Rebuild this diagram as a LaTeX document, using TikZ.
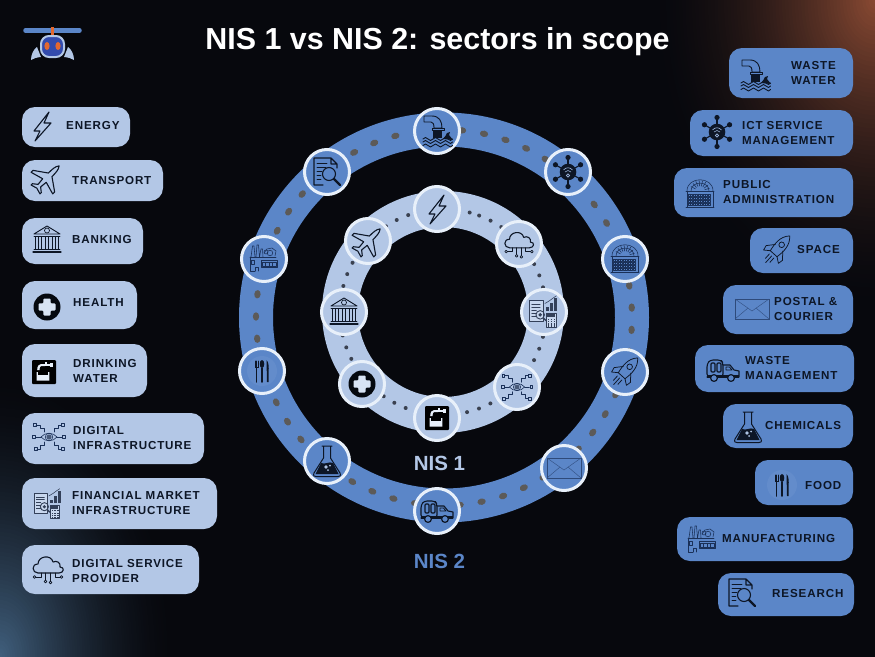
\documentclass[tikz,border=0pt]{standalone}
\usepackage{fontspec}
\setmainfont{Liberation Sans}
\newfontfamily\labfont[LetterSpace=7.5]{Liberation Sans}
\definecolor{bgc}{HTML}{07080D}
\definecolor{pa}{HTML}{B3C7E6}
\definecolor{pb}{HTML}{5B86C8}
\definecolor{ink}{HTML}{0D1626}
\definecolor{thinink}{HTML}{1A3058}
\definecolor{finink}{HTML}{334059}
\definecolor{ringw}{HTML}{E8F0FA}
\definecolor{dota}{HTML}{5C5A58}
\definecolor{dotb}{HTML}{3A4150}
\definecolor{orng}{HTML}{E4682F}
\definecolor{ra}{HTML}{8A4A33}
\definecolor{ba}{HTML}{41607E}
\tikzset{
  x=1pt,y=-1pt,
  pilla/.style={rectangle,rounded corners=13pt,fill=pa,draw=none,inner sep=0pt},
  pillb/.style={rectangle,rounded corners=13pt,fill=pb,draw=none,inner sep=0pt},
  circa/.style={circle,draw=ringw,line width=3pt,fill=pa,minimum size=45pt,inner sep=0pt},
  circb/.style={circle,draw=ringw,line width=3pt,fill=pb,minimum size=45pt,inner sep=0pt},
  lab/.style={anchor=west,text=ink,inner sep=0pt,align=left,font=\labfont\bfseries\fontsize{11.6}{15}\selectfont},
  ico/.style={draw=ink,line width=1.1pt,line join=round,line cap=round},
  thn/.style={draw=thinink,line width=.55pt,line join=round,line cap=round},
  fn/.style={draw=finink,line width=.55pt,line join=round,line cap=round},
  pics/icbolt/.style={code={
    \draw[ico] (7,-14) -- (-8,5) -- (-2,5) -- (-7,15) -- (9,-3) -- (2,-3) -- cycle;}},
  pics/icplane/.style={code={
    \begin{scope}[rotate=-45]
    \draw[ico] (0,-19) .. controls (2.8,-16) and (2.8,-10) .. (2.8,-5) -- (17,5) -- (17,8) -- (2.8,4)
      -- (2,12) -- (7,16) -- (7,18) -- (0,16) -- (-7,18) -- (-7,16) -- (-2,12) -- (-2.8,4)
      -- (-17,8) -- (-17,5) -- (-2.8,-5) .. controls (-2.8,-10) and (-2.8,-16) .. (0,-19) -- cycle;
    \end{scope}}},
  pics/icbank/.style={code={
    \draw[ico,line width=.9pt] (0,-14) -- (-13,-6) -- (13,-6) -- cycle;
    \draw[ico,line width=.7pt] (0,-9.5) circle[radius=2.5];
    \draw[ico,line width=.9pt] (-13,-3.5) -- (13,-3.5);
    \foreach \cx in {-10,-3.5,3.5,10}{\draw[ico,line width=.9pt] (\cx-1.7,-3.5) -- (\cx-1.7,9) (\cx+1.7,-3.5) -- (\cx+1.7,9);}
    \draw[ico,line width=.9pt] (-13,9.5) -- (13,9.5);
    \draw[ico] (-14,12) -- (14,12);}},
  pics/ichealth/.style={code={
    \fill[ink!40!black] (0,0) circle[radius=13.5];
    \fill[ringw!70!pa,rounded corners=1pt] (-3.6,-8.5) -- (3.6,-8.5) -- (3.6,-3.6) -- (8.5,-3.6) -- (8.5,3.6) -- (3.6,3.6) -- (3.6,8.5) -- (-3.6,8.5) -- (-3.6,3.6) -- (-8.5,3.6) -- (-8.5,-3.6) -- (-3.6,-3.6) -- cycle;}},
  pics/ictap/.style={code={
    \fill[black,rounded corners=1pt] (-12,-12) rectangle (12,12);
    \fill[ringw] (-1,-8) rectangle (6,-5.8);
    \fill[ringw] (1,-10) rectangle (3,-8);
    \fill[ringw] (6,-9) rectangle (8.5,-4.8);
    \fill[ringw] (-1,-8) -- (1,-5.8) -- (-3,-5.8) .. controls (-4,-5.8) and (-4.5,-4) .. (-4.5,-2) -- (-6.8,-2) .. controls (-6.8,-6) and (-5,-8) .. (-3,-8) -- cycle;
    \fill[ringw] (-7.5,0) -- (-6.2,0) -- (-6.2,3) -- (4,3) -- (4,0) -- (5.3,0) -- (5.3,8.5) -- (-7.5,8.5) -- cycle;}},
  pics/iceye/.style={code={
    \draw[ico,line width=.6pt,draw=thinink] (-8,0) .. controls (-4,-5) and (4,-5) .. (8,0) .. controls (4,5) and (-4,5) .. (-8,0) -- cycle;
    \fill[thinink!80] (0,0) circle[radius=2.6];
    \draw[ico,line width=.6pt,draw=thinink] (0,0) circle[radius=3.8];
    \draw[ico,line width=.6pt,draw=thinink] (-8,0) -- (-13,0) (8,0) -- (13,0)
      (-5,-5) -- (-5,-9) -- (-9,-9) -- (-9,-12) -- (-13,-12)
      (5,-5) -- (5,-9) -- (9,-9) -- (9,-12) -- (12,-12)
      (-5,5) -- (-5,8) -- (-9,8) -- (-9,12) -- (-12,12)
      (5,5) -- (5,8) -- (9,8) -- (9,12) -- (12,12);
    \foreach \sx/\sy in {-15/0,15/0,-14.5/-12,13.5/-12,-13.5/12,13.5/12}{
      \draw[ico,line width=.6pt,draw=thinink] (\sx-1.5,\sy-1.5) rectangle (\sx+1.5,\sy+1.5);}}},
  pics/icfin/.style={code={
    \fill[ringw!40!pa] (-15,-12) rectangle (-1,10);
    \draw[fn] (-15,-12) rectangle (-1,10);
    \draw[fn] (-13,-8) -- (-4,-8) (-13,-5) -- (-4,-5) (-13,-2) -- (-8,-2) (-13,1) -- (-8,1) (-13,5) -- (-8,5);
    \fill[finink] (-4,3) circle[radius=2];
    \draw[fn,line width=.9pt] (-4,3) circle[radius=4.5];
    \draw[fn,line width=1.4pt] (-1,6) -- (2,9);
    \fill[finink] (2,-5) rectangle (5,-1);
    \fill[finink] (6.5,-9) rectangle (9.5,-1);
    \fill[finink] (11,-15) rectangle (14,-1);
    \draw[fn] (1,-9) -- (6,-12) -- (10,-15) -- (13,-17);
    \fill[ringw!40!pa] (2,1) rectangle (13,16);
    \draw[fn] (2,1) rectangle (13,16);
    \fill[finink] (3.5,2.5) rectangle (11.5,5);
    \foreach \qy in {7,9.5,12,14.2}{\foreach \qx in {4,7,10}{\fill[finink] (\qx,\qy) rectangle (\qx+1.7,\qy+1.2);}}}},
  pics/iccloud/.style={code={
    \draw[ico] (-10,4) .. controls (-16,4) and (-17,-5) .. (-10,-5) .. controls (-10,-13) and (3,-15) .. (5,-7) .. controls (9,-9) and (13,-6) .. (12,-2) .. controls (17,-2) and (16,4) .. (11,4) -- cycle;
    \draw[ico,line width=.9pt] (-7,4) -- (-7,8) -- (-12,8) (-2.5,4) -- (-2.5,11) (2.5,4) -- (2.5,12) (7,4) -- (7,8) -- (12,8);
    \draw[ico,line width=.7pt] (-13.5,8) circle[radius=1.4] (-2.5,12.5) circle[radius=1.4] (2.5,13.5) circle[radius=1.4] (13.5,8) circle[radius=1.4];}},
  pics/icwater/.style={code={
    \draw[ico,line width=.9pt] (-13,-15) -- (-5,-15) .. controls (2,-15) and (5,-10) .. (5,-3) -- (-3,-3) .. controls (-3,-7) and (-4,-9) .. (-6,-9) -- (-13,-9) -- cycle;
    \draw[ico,line width=.9pt] (-5,-3) rectangle (7,-1);
    \fill[ink] (-4,-1) rectangle (5,7);
    \fill[ink] (6,8) .. controls (8,6) and (9,4) .. (10,2) -- (13,1) -- (12,4) -- (16,9) -- cycle;
    \foreach \wy in {8,11,14.5}{\draw[ico,line width=.9pt] (-14,\wy) sin (-11.5,\wy-1.5) cos (-9,\wy) sin (-6.5,\wy+1.5) cos (-4,\wy) sin (-1.5,\wy-1.5) cos (1,\wy) sin (3.5,\wy+1.5) cos (6,\wy) sin (8.5,\wy-1.5) cos (11,\wy) sin (13.5,\wy+1.5) cos (15.5,\wy);}}},
  pics/icict/.style={code={
    \foreach \ha in {90,30,-30,-90,-150,150}{
      \draw[ink,line width=1.1pt] (0,0) -- ({14.5*cos(\ha)},{14.5*sin(\ha)});
      \fill[ink] ({14.5*cos(\ha)},{14.5*sin(\ha)}) circle[radius=2.6];}
    \fill[ink] (0,0) circle[radius=8.3];
    \draw[pb!60!white,line width=.6pt] (-4.5,-2) .. controls (-2,-5) and (2,-5) .. (4.5,-2);
    \draw[pb!60!white,line width=.6pt] (-3,0) .. controls (-1.5,-2) and (1.5,-2) .. (3,0);
    \draw[pb!60!white,line width=.6pt] (0,3.5) circle[radius=1.6];}},
  pics/icpublic/.style={code={
    \draw[thn] (-13,-3) .. controls (-13,-18) and (13,-18) .. (13,-3);
    \draw[thn] (-9,-3) .. controls (-9,-13.5) and (9,-13.5) .. (9,-3);
    \foreach \ra in {15,35,...,165}{\draw[thn] ({5*cos(\ra)},{-3-5*sin(\ra)}) -- ({9.8*cos(\ra)},{-3-10.5*sin(\ra)});}
    \draw[thn,line width=.9pt] (-14,-3) -- (14,-3);
    \draw[thn] (-13,-3) rectangle (13,13);
    \foreach \wy in {0,3,6,9}{\foreach \wx in {-12,-9.5,...,10}{\draw[thn,line width=.4pt] (\wx,\wy) rectangle (\wx+1.7,\wy+2);}}
    \draw[thn,line width=.9pt] (-14,13) -- (14,13);}},
  pics/icrocket/.style={code={
    \begin{scope}[rotate=-42]
    \draw[ico,line width=.75pt] (0,-19) .. controls (7,-12) and (6,-3) .. (4.5,5) -- (-4.5,5) .. controls (-6,-3) and (-7,-12) .. (0,-19) -- cycle;
    \draw[ico,line width=.75pt] (0,-7) circle[radius=2.8];
    \draw[ico,line width=.75pt] (-5,-3) -- (-11,4) -- (-10,9) -- (-4.5,5) (5,-3) -- (11,4) -- (10,9) -- (4.5,5);
    \draw[ico,line width=.75pt] (-3,8) -- (-3,14) (0,8) -- (0,17) (3,8) -- (3,14);
    \end{scope}}},
  pics/icmail/.style={code={
    \draw[draw=thinink!70!pb,line width=.7pt] (-17,-10) rectangle (17,10);
    \draw[draw=thinink!60!pb,line width=.45pt] (-17,-10) -- (0,2) -- (17,-10) (-17,10) -- (-4,-1) (17,10) -- (4,-1);}},
  pics/ictruck/.style={code={
    \draw[ico,rounded corners=3pt] (-16,7) -- (-16,-6) -- (-13,-10) -- (-2,-10) -- (0,-7) -- (0,7) -- cycle;
    \draw[ico,rounded corners=1pt] (-12,-7) rectangle (-8,2) (-6,-7) rectangle (-2,2);
    \draw[ico] (0,-5) -- (7,-5) -- (11,0) -- (16,1) -- (16,7) -- (-16,7);
    \draw[ico,line width=.8pt] (3,-3) -- (6.5,-3) -- (9,0) -- (3,0) -- cycle;
    \fill[ink] (-16,5) rectangle (16,7.5);
    \draw[ico,line width=1.2pt,fill=pb] (-9,8) circle[radius=3.4] (8,8) circle[radius=3.4];}},
  pics/icflask/.style={code={
    \draw[ico,line width=1pt] (-5,-15) -- (5,-15) (-3.5,-15) -- (-3.5,-3) -- (-13,12) .. controls (-14,15) and (-13,15.5) .. (-11,15.5) -- (11,15.5) .. controls (13,15.5) and (14,15) .. (13,12) -- (3.5,-3) -- (3.5,-15);
    \fill[ink] (-6,2) .. controls (-2,4) and (2,0) .. (6,2) -- (11.5,13) -- (-11.5,13) -- cycle;
    \fill[pb!50!white] (-1,6) circle[radius=1.8] (3,4.5) circle[radius=1] (1,9) circle[radius=1];}},
  pics/icfood/.style={code={
    \fill[pb!95!white] (0,0) circle[radius=15];
    \draw[ink,line width=1.5pt,line cap=round] (-5.5,-3) -- (-5.5,11);
    \draw[ink,line width=.8pt,line cap=round] (-7,-10) -- (-7,-4) -- (-4,-4) -- (-4,-10) (-5.5,-10) -- (-5.5,-4);
    \fill[ink] (0,-11) .. controls (-3,-11) and (-3,-3) .. (0,-3) .. controls (3,-3) and (3,-11) .. (0,-11) -- cycle;
    \draw[ink,line width=1.5pt,line cap=round] (0,-3) -- (0,11);
    \fill[ink] (4.5,-11) .. controls (7,-9) and (7,-2) .. (6.5,0) -- (6.5,11) -- (5,11) -- cycle;}},
  pics/icfactory/.style={code={
    \draw[thn] (-13,-2) -- (-11.5,-13) -- (-10,-13) -- (-9,-2) (-8,-2) -- (-7,-14) -- (-5.5,-14) -- (-4.5,-2) (-4.5,-2) -- (-3,-10) -- (-1.5,-10) -- (-1,-2);
    \draw[thn] (0,-6) -- (3,-10) -- (8,-11) -- (12,-8) -- (11,-3);
    \draw[thn] (6,-6) circle[radius=2.8] (2,-7) circle[radius=2];
    \draw[thn] (-14,-2) -- (12,-2);
    \draw[thn] (-14,-2) -- (-14,12) -- (-9,12);
    \draw[thn] (-13,1) rectangle (-10,5);
    \draw[thn] (-9,12) -- (-9,8) -- (-6,8) -- (-6,12);
    \foreach \wx in {-2,1.5,5,8.5}{\draw[thn] (\wx,3) rectangle (\wx+3.5,7);}
    \draw[thn] (-3,1) rectangle (13,8);}},
  pics/icresearch/.style={code={
    \draw[ico] (-13,-14) -- (4,-14) -- (10,-8) -- (10,-4) (4,-14) -- (4,-8) -- (10,-8) (-4,13) -- (-13,13) -- (-13,-14);
    \draw[ico,line width=.8pt] (-10,-9) -- (0,-9) (-10,-5) -- (-1,-5) (-10,-1) -- (-5,-1) (-10,3) -- (-6,3) (-10,7) -- (-6,7);
    \draw[ico,line width=1.1pt] (2,2) circle[radius=6.5];
    \draw[ink,line width=2.2pt,line cap=round] (7,7) -- (13,13);}},
}
\newcommand{\pillbox}[6]{\node[#2,minimum width={(#5-#3)*1pt},minimum height={(#6-#4)*1pt}] (#1) at ({(#3+#5)/2},{(#4+#6)/2}) {};}
\begin{document}
\begin{tikzpicture}
\useasboundingbox (0,0) rectangle (875,656);
\fill[bgc] (-3,-3) rectangle (878,659);
\begin{scope}
  \clip (-3,-3) rectangle (878,659);
  \foreach \i in {70,69,...,1}{
    \pgfmathsetmacro{\tt}{\i/70}
    \pgfmathsetmacro{\pc}{100*pow(1-\tt,1.7)}
    \fill[ra!\pc!bgc] (875,0) ellipse [x radius={225*\tt*1pt},y radius={310*\tt*1pt}];
  }
  \foreach \i in {70,69,...,1}{
    \pgfmathsetmacro{\tt}{\i/70}
    \pgfmathsetmacro{\pc}{100*pow(1-\tt,1.6)}
    \fill[ba!\pc!bgc] (0,656) ellipse [x radius={175*\tt*1pt},y radius={280*\tt*1pt}];
  }
\end{scope}
% rings
\coordinate (co) at (444,317.5);
\coordinate (ci) at (443,312);
\draw[pb,line width=34pt] (co) circle[radius=188];
\draw[pa,line width=36pt] (ci) circle[radius=103];
\foreach \k in {0,...,52}{
  \pgfmathsetmacro{\ang}{105+\k*6.79}
  \fill[dota,shift={({444+188*cos(\ang)},{317.5-188*sin(\ang)})},rotate=\ang+90] (0,0) ellipse [x radius=4.2pt,y radius=3.2pt];
}
\foreach \k in {0,...,51}{
  \pgfmathsetmacro{\ang}{75+\k*6.95}
  \fill[dotb] ({443+103*cos(\ang)},{312-103*sin(\ang)}) circle[radius=2];
}
% logo
\draw[pb,line width=4.5pt,line cap=round] (25.5,30.5) -- (79.5,30.5);
\fill[orng] (51,27) rectangle (54,36);
\fill[pa] (37,47) .. controls (33,50) and (31,55) .. (31,60) .. controls (34,58) and (37,57.5) .. (41,57) -- cycle;
\fill[pa] (68,47) .. controls (72,50) and (74,55) .. (74,60) .. controls (71,58) and (68,57.5) .. (64,57) -- cycle;
\node[rectangle,rounded corners=8pt,draw=pa,line width=2pt,fill=pb!70!blue!80!black,minimum width=23pt,minimum height=21pt,inner sep=0pt] (logohead) at (52.5,46.5) {};
\fill[orng] (47,46) ellipse [x radius=2.6pt,y radius=4pt];
\fill[orng] (58,46) ellipse [x radius=2.6pt,y radius=4pt];
% title and ring labels
\node[text=white,inner sep=0pt,font=\bfseries\fontsize{30.4}{36}\selectfont] (title) at (437.5,42) {NIS 1 vs NIS 2: sectors in scope};
\node[text=pa,inner sep=0pt,font=\bfseries\fontsize{20.5}{24}\selectfont] (nisone) at (439.5,463) {NIS 1};
\node[text=pb,inner sep=0pt,font=\bfseries\fontsize{20.5}{24}\selectfont] (nistwo) at (439.5,561) {NIS 2};
% inner nodes
\node[circa] (a1) at (437,209) {}; \pic at (a1) {icbolt};
\node[circa] (a2) at (519,244) {}; \pic[scale=.95] at (a2) {iccloud};
\node[circa] (a3) at (544,312) {}; \pic[scale=.95] at (a3) {icfin};
\node[circa] (a4) at (517,387) {}; \pic[scale=.95] at (a4) {iceye};
\node[circa] (a5) at (437,418) {}; \pic at (a5) {ictap};
\node[circa] (a6) at (362,384) {}; \pic at (a6) {ichealth};
\node[circa] (a7) at (344,312) {}; \pic at (a7) {icbank};
\node[circa] (a8) at (368,241) {}; \pic[scale=.9] at (a8) {icplane};
% outer nodes
\node[circb] (b1) at (437,131) {}; \pic at (b1) {icwater};
\node[circb] (b2) at (568,172) {}; \pic at (b2) {icict};
\node[circb] (b3) at (625,259) {}; \pic at (b3) {icpublic};
\node[circb] (b4) at (625,372) {}; \pic at (b4) {icrocket};
\node[circb] (b5) at (564,468) {}; \pic at (b5) {icmail};
\node[circb] (b6) at (437,511) {}; \pic at (b6) {ictruck};
\node[circb] (b7) at (327,461) {}; \pic at (b7) {icflask};
\node[circb] (b8) at (262,371) {}; \pic at (b8) {icfood};
\node[circb] (b9) at (264,259) {}; \pic at (b9) {icfactory};
\node[circb] (b10) at (327,172) {}; \pic at (b10) {icresearch};
% left pills
\pillbox{energy}{pilla}{22}{107}{130}{147}
\pic at (42,126) {icbolt};
\node[lab] (energyt) at (66,126) {ENERGY};
\pillbox{transport}{pilla}{22}{160}{163}{201}
\pic[scale=.9] at (47,178) {icplane};
\node[lab] (transportt) at (72,181) {TRANSPORT};
\pillbox{banking}{pilla}{22}{218}{143}{264}
\pic at (47,240) {icbank};
\node[lab] (bankingt) at (72,240) {BANKING};
\pillbox{health}{pilla}{22}{281}{137}{329}
\pic at (47,307) {ichealth};
\node[lab] (healtht) at (73,303) {HEALTH};
\pillbox{drinking}{pilla}{22}{344}{147}{397}
\pic at (44,372) {ictap};
\node[lab] (drinkingt) at (73,371) {DRINKING\\WATER};
\pillbox{digital}{pilla}{22}{413}{204}{464}
\pic at (49,437) {iceye};
\node[lab] (digitalt) at (73,438) {DIGITAL\\INFRASTRUCTURE};
\pillbox{financial}{pilla}{22}{478}{217}{529}
\pic[scale=.9] at (48,504) {icfin};
\node[lab] (financialt) at (72,503) {FINANCIAL MARKET\\INFRASTRUCTURE};
\pillbox{service}{pilla}{22}{545}{199}{594}
\pic at (48,569) {iccloud};
\node[lab] (servicet) at (72,571) {DIGITAL SERVICE\\PROVIDER};
% right pills
\pillbox{wastewater}{pillb}{729}{48}{853}{98}
\pic at (755,75) {icwater};
\node[lab] (wastewatert) at (791,73) {WASTE\\WATER};
\pillbox{ict}{pillb}{690}{110}{853}{156}
\pic at (717,132) {icict};
\node[lab] (ictt) at (742,133) {ICT SERVICE\\MANAGEMENT};
\pillbox{public}{pillb}{674}{168}{853}{217}
\pic at (700,194) {icpublic};
\node[lab] (publict) at (723,192) {PUBLIC\\ADMINISTRATION};
\pillbox{space}{pillb}{750}{228}{853}{273}
\pic at (777,250) {icrocket};
\node[lab] (spacet) at (797,250) {SPACE};
\pillbox{postal}{pillb}{723}{285}{853}{334}
\pic at (752,309) {icmail};
\node[lab] (postalt) at (774,309) {POSTAL \&\\COURIER};
\pillbox{wastemgmt}{pillb}{695}{345}{854}{392}
\pic at (723,370) {ictruck};
\node[lab] (wastemgmtt) at (745,368) {WASTE\\MANAGEMENT};
\pillbox{chemicals}{pillb}{723}{404}{853}{448}
\pic at (748,427) {icflask};
\node[lab] (chemicalst) at (765,425) {CHEMICALS};
\pillbox{food}{pillb}{755}{460}{853}{505}
\pic at (782,485) {icfood};
\node[lab] (foodt) at (805,485) {FOOD};
\pillbox{manufacturing}{pillb}{677}{517}{853}{561}
\pic at (702,540) {icfactory};
\node[lab] (manufacturingt) at (722,538) {MANUFACTURING};
\pillbox{research}{pillb}{718}{573}{854}{616}
\pic at (742,593) {icresearch};
\node[lab] (researcht) at (772,593) {RESEARCH};
\end{tikzpicture}
\end{document}
